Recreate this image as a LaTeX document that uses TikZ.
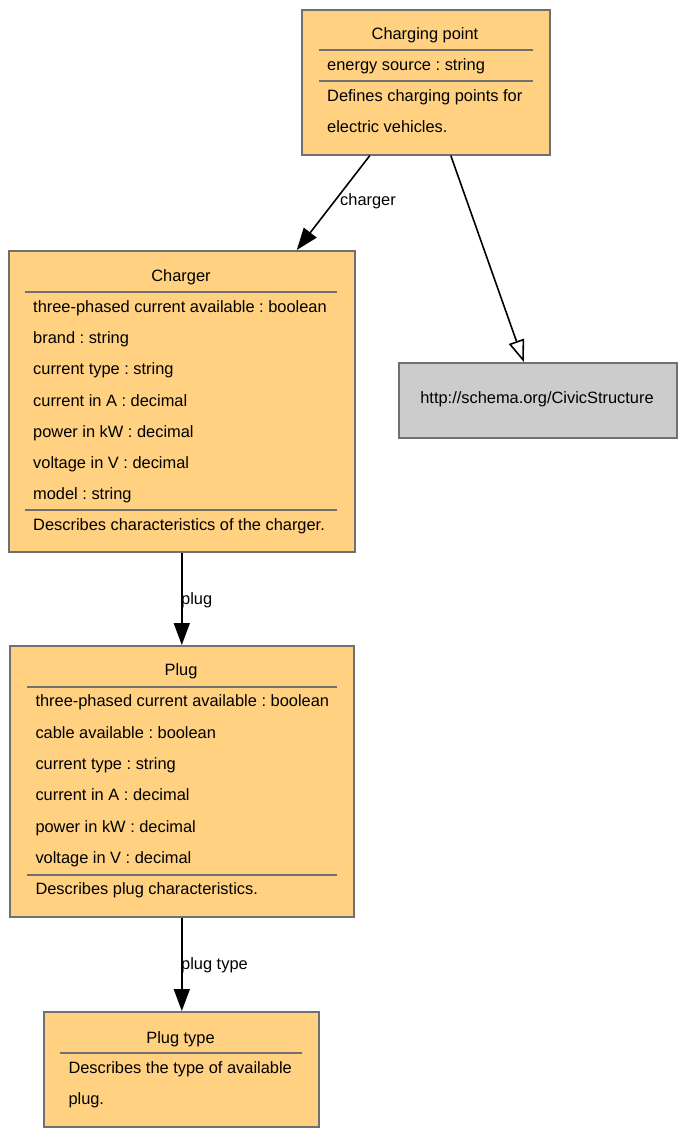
\documentclass[tikz,border=0pt]{standalone}
\usepackage{fontspec}
\setmainfont{Liberation Sans}
\usetikzlibrary{arrows.meta,positioning,calc}
\definecolor{classfill}{RGB}{255,209,128}
\definecolor{classline}{RGB}{112,112,112}
\definecolor{extfill}{RGB}{204,204,204}
\tikzset{
  cls/.style={draw=classline, line width=1.6pt, fill=classfill, anchor=north west,
              inner sep=0pt},
  ext/.style={cls, fill=extfill},
  title/.style={anchor=mid, inner sep=0pt, yshift=-1.5pt},
  attr/.style={anchor=mid west, inner sep=0pt, yshift=-1.5pt},
  sepline/.style={draw=classline, line width=1.6pt},
  assoc/.style={-{Triangle[length=22pt, width=16pt]}, line width=1.6pt},
  isa/.style={-{Triangle[open, length=22pt, width=16pt]}, line width=1.6pt},
  elabel/.style={anchor=mid west, inner sep=0pt, yshift=-1.5pt},
}

\begin{document}
\frenchspacing
\begin{tikzpicture}[x=1pt, y=-1pt, font=\fontsize{16.4}{19}\selectfont]
  \useasboundingbox (0,0) rectangle (684,1134);
  \fill[white] (0,0) rectangle (684,1134);

  % class boxes
  \node[cls, minimum width=248pt, minimum height=145pt] (cpoint) at (301,9) {};
  \node[cls, minimum width=346pt, minimum height=301pt] (charger) at (8,250) {};
  \node[ext, minimum width=278pt, minimum height=75pt] (civic) at (398,362) {};
  \node[cls, minimum width=344pt, minimum height=271pt] (plug) at (9,645) {};
  \node[cls, minimum width=275pt, minimum height=115pt] (ptype) at (43,1011) {};

  % Charging point
  \node[title] (cpointname) at (425,35) {Charging point};
  \draw[sepline] (319,50) -- (533,50);
  \node[attr] (cpointa1) at (327,66.4) {energy source : string};
  \draw[sepline] (319,81) -- (533,81);
  \node[attr] (cpointd1) at (327,97.7) {Defines charging points for};
  \node[attr] (cpointd2) at (327,128.4) {electric vehicles.};

  % Charger
  \node[title] (chargername) at (181,277) {Charger};
  \draw[sepline] (25,292) -- (337,292);
  \node[attr] (chargera1) at (33,308.4) {three-phased current available : boolean};
  \node[attr] (chargera2) at (33,339.6) {brand : string};
  \node[attr] (chargera3) at (33,370.8) {current type : string};
  \node[attr] (chargera4) at (33,402.0) {current in A : decimal};
  \node[attr] (chargera5) at (33,433.2) {power in kW : decimal};
  \node[attr] (chargera6) at (33,464.4) {voltage in V : decimal};
  \node[attr] (chargera7) at (33,495.6) {model : string};
  \draw[sepline] (25,510) -- (337,510);
  \node[attr] (chargerd1) at (33,526.6) {Describes characteristics of the charger.};

  % external type
  \node[title] (civicname) at (537,399.7) {http://schema.org/CivicStructure};

  % Plug
  \node[title] (plugname) at (181,671.7) {Plug};
  \draw[sepline] (27,687) -- (337,687);
  \node[attr] (pluga1) at (35.3,702.4) {three-phased current available : boolean};
  \node[attr] (pluga2) at (35.3,733.9) {cable available : boolean};
  \node[attr] (pluga3) at (35.3,765.3) {current type : string};
  \node[attr] (pluga4) at (35.3,796.8) {current in A : decimal};
  \node[attr] (pluga5) at (35.3,828.2) {power in kW : decimal};
  \node[attr] (pluga6) at (35.3,859.7) {voltage in V : decimal};
  \draw[sepline] (27,875) -- (337,875);
  \node[attr] (plugd1) at (35.3,890.7) {Describes plug characteristics.};

  % Plug type
  \node[title] (ptypename) at (180.5,1039) {Plug type};
  \draw[sepline] (60,1053) -- (302,1053);
  \node[attr] (ptyped1) at (68.3,1069.7) {Describes the type of available};
  \node[attr] (ptyped2) at (68.3,1100.7) {plug.};

  % relations
  \draw[assoc] ([xshift=-56pt]cpoint.south) -- ([xshift=115pt]charger.north);
  \node[elabel] (lblcharger) at (340,201) {charger};
  \draw[isa] ([xshift=25pt]cpoint.south) -- ([xshift=-14pt]civic.north);
  \draw[assoc] (charger.south) -- (plug.north);
  \node[elabel] (lblplug) at (181,600.7) {plug};
  \draw[assoc] (plug.south) -- (plug.south |- ptype.north);
  \node[elabel] (lblptype) at (181,965) {plug type};
\end{tikzpicture}
\end{document}
